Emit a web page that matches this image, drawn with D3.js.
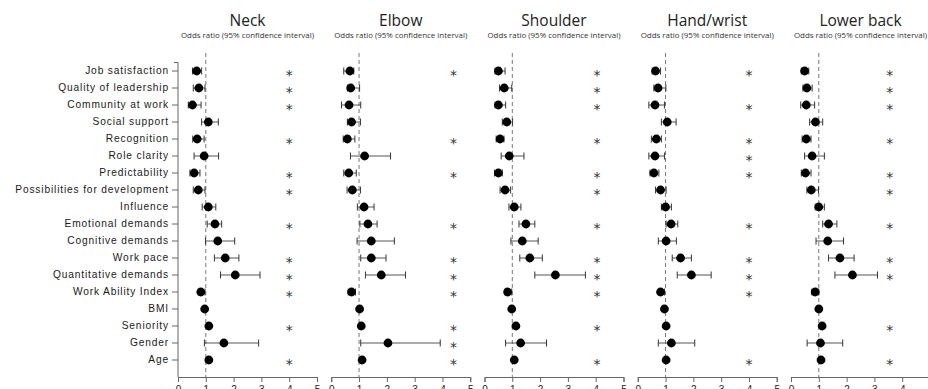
<!DOCTYPE html>
<html><head><meta charset="utf-8">
<script src="https://cdn.jsdelivr.net/npm/d3@7"></script>
<style>
html,body{margin:0;padding:0;background:#fff;overflow:hidden}
svg{display:block}
</style></head>
<body><svg id="c" width="928" height="389"></svg>
<script>
const categories = ["Job satisfaction","Quality of leadership","Community at work","Social support","Recognition","Role clarity","Predictability","Possibilities for development","Influence","Emotional demands","Cognitive demands","Work pace","Quantitative demands","Work Ability Index","BMI","Seniority","Gender","Age"];
const panels = ["Neck","Elbow","Shoulder","Hand/wrist","Lower back"];
const subtitle = "Odds ratio (95% confidence interval)";
const xTicks = [0,1,2,3,4,5];
const starPos = [4, 4.4, 4.05, 4, 3.55];

const neckOR = [0.67,0.75,0.52,1.09,0.69,0.94,0.58,0.73,1.09,1.33,1.43,1.70,2.06,0.82,0.96,1.11,1.65,1.11];
const neckLo = [0.52,0.55,0.37,0.85,0.53,0.58,0.43,0.55,0.87,1.05,0.99,1.31,1.53,0.73,0.93,1.06,0.95,1.06];
const neckHi = [0.85,0.97,0.83,1.45,0.94,1.46,0.79,0.97,1.36,1.57,2.04,2.19,2.95,0.97,1.00,1.16,2.90,1.16];
const neckSig = [1,1,1,0,1,0,1,1,0,1,0,1,1,1,0,1,0,1];

const elbowOR = [0.67,0.70,0.64,0.73,0.58,1.20,0.63,0.76,1.18,1.32,1.44,1.44,1.80,0.73,1.02,1.08,2.04,1.11];
const elbowLo = [0.45,0.58,0.37,0.58,0.43,0.69,0.45,0.57,0.94,1.03,0.93,1.06,1.23,0.61,0.98,1.03,1.06,1.06];
const elbowHi = [0.81,1.02,1.06,1.05,0.85,2.13,0.90,1.05,1.54,1.65,2.27,1.97,2.67,0.87,1.06,1.13,3.92,1.16];
const elbowSig = [1,0,0,0,1,0,1,0,0,1,0,1,1,1,0,1,1,1];

const shoulderOR = [0.50,0.71,0.50,0.80,0.56,0.89,0.50,0.74,1.07,1.49,1.36,1.63,2.55,0.83,0.98,1.13,1.30,1.07];
const shoulderLo = [0.38,0.54,0.38,0.64,0.42,0.60,0.36,0.56,0.88,1.24,0.95,1.27,1.81,0.74,0.95,1.08,0.76,1.02];
const shoulderHi = [0.74,0.98,0.76,1.01,0.70,1.42,0.64,0.94,1.31,1.81,1.93,2.08,3.63,0.98,1.01,1.18,2.23,1.12];
const shoulderSig = [1,1,1,0,1,0,1,1,0,1,0,1,1,1,0,1,0,1];

const handOR = [0.64,0.73,0.62,1.06,0.67,0.62,0.58,0.82,1.00,1.20,1.02,1.54,1.93,0.82,0.96,1.02,1.21,1.02];
const handLo = [0.52,0.58,0.40,0.85,0.49,0.40,0.44,0.64,0.85,1.02,0.74,1.24,1.42,0.74,0.93,0.99,0.74,0.99];
const handHi = [0.82,1.01,0.96,1.38,0.85,0.96,0.76,1.02,1.21,1.44,1.39,1.93,2.64,0.96,1.00,1.05,2.05,1.05];
const handSig = [1,0,1,0,1,1,1,0,0,1,0,1,1,1,0,0,0,1];

const backOR = [0.49,0.57,0.55,0.88,0.55,0.76,0.52,0.73,1.00,1.35,1.32,1.76,2.21,0.87,1.00,1.12,1.06,1.08];
const backLo = [0.37,0.43,0.35,0.67,0.40,0.49,0.37,0.57,0.87,1.14,0.90,1.35,1.58,0.75,0.97,1.08,0.58,1.04];
const backHi = [0.64,0.76,0.85,1.14,0.72,1.20,0.72,0.99,1.20,1.65,1.89,2.27,3.11,1.00,1.03,1.16,1.86,1.12];
const backSig = [1,1,1,0,1,0,1,1,0,1,0,1,1,0,0,1,0,1];

const seriesOR = [neckOR, elbowOR, shoulderOR, handOR, backOR];
const seriesLo = [neckLo, elbowLo, shoulderLo, handLo, backLo];
const seriesHi = [neckHi, elbowHi, shoulderHi, handHi, backHi];
const seriesSig = [neckSig, elbowSig, shoulderSig, handSig, backSig];

const svg = d3.select("#c");
const axisY = 377;
const px = d3.scaleBand().domain(panels).range([178, 930]).paddingInner(0.093).paddingOuter(0);
const y = d3.scaleBand().domain(categories).range([62.5, 62.5 + 17*categories.length]);
const yc = c => y(c) + y.bandwidth()/2;

// y axis (only left panel)
const yAxis = svg.append("g").attr("transform", `translate(${px(panels[0])},0)`)
  .call(d3.axisLeft(y).tickSize(6).tickSizeOuter(0).tickPadding(3));
yAxis.select(".domain").attr("d", `M-4,${y.range()[0]}H0V${axisY}`).attr("stroke","#666");
yAxis.selectAll(".tick line").attr("stroke","#666");
yAxis.selectAll(".tick text")
  .attr("font-family","'Liberation Sans', Arial, sans-serif")
  .attr("font-size","10.2px").attr("letter-spacing","0.85px").attr("fill","#1a1a1a");

panels.forEach((p, i) => {
  const x = d3.scaleLinear().domain([0,5]).range([px(p), px(p) + px.bandwidth()]);
  const g = svg.append("g");
  const cx = px(p) + px.bandwidth()/2;
  g.append("text").attr("x", cx).attr("y", 26).attr("text-anchor","middle")
    .attr("font-family","'Open Sans', sans-serif").attr("font-size","15.5px").attr("fill","#222").text(p);
  g.append("text").attr("x", cx).attr("y", 38).attr("text-anchor","middle")
    .attr("font-family","'Open Sans', sans-serif").attr("font-size","7.9px").attr("fill","#333").text(subtitle);

  // x axis
  const xa = g.append("g").attr("transform", `translate(0,${axisY})`)
    .call(d3.axisBottom(x).tickValues(xTicks).tickFormat(d3.format("d")).tickSize(5).tickPadding(4));
  xa.select(".domain").attr("stroke","#666");
  xa.selectAll(".tick line").attr("stroke","#666");
  xa.selectAll(".tick text").attr("font-family","'Liberation Sans', Arial, sans-serif").attr("font-size","10px").attr("fill","#222");

  // reference line at OR=1
  g.append("line").attr("x1", x(1)).attr("x2", x(1)).attr("y1", 53).attr("y2", axisY)
    .attr("stroke","#777").attr("stroke-width",1).attr("stroke-dasharray","4,3");

  const rows = categories.map((c, j) => ({c, or: seriesOR[i][j], lo: seriesLo[i][j], hi: seriesHi[i][j], sig: seriesSig[i][j]}));
  const r = g.selectAll("g.row").data(rows).join("g").attr("class","row");
  r.append("line").attr("x1", d => x(d.lo)).attr("x2", d => x(d.hi))
    .attr("y1", d => yc(d.c)).attr("y2", d => yc(d.c)).attr("stroke","#555").attr("stroke-width",1);
  r.append("line").attr("x1", d => x(d.lo)).attr("x2", d => x(d.lo))
    .attr("y1", d => yc(d.c)-3.5).attr("y2", d => yc(d.c)+3.5).attr("stroke","#333").attr("stroke-width",1);
  r.append("line").attr("x1", d => x(d.hi)).attr("x2", d => x(d.hi))
    .attr("y1", d => yc(d.c)-3.5).attr("y2", d => yc(d.c)+3.5).attr("stroke","#333").attr("stroke-width",1);
  r.append("circle").attr("cx", d => x(d.or)).attr("cy", d => yc(d.c)).attr("r", 4.4).attr("fill","#000");
  r.filter(d => d.sig).append("text").attr("x", x(starPos[i])).attr("y", d => yc(d.c) + 8.5)
    .attr("text-anchor","middle").attr("font-family","'DejaVu Sans', sans-serif").attr("font-size","14px")
    .attr("fill","#333").text("*");
});
</script></body></html>
